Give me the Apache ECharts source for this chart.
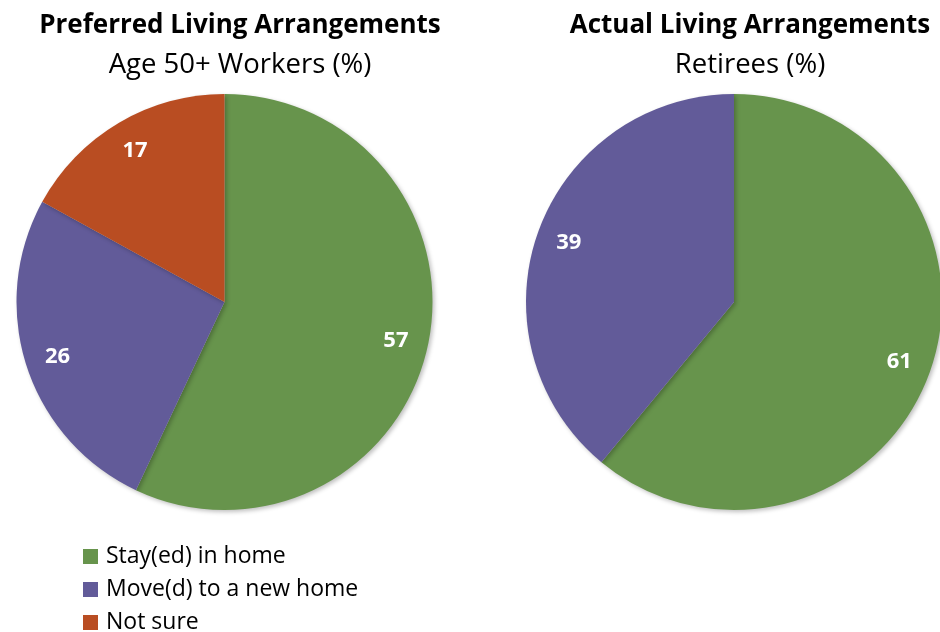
<!DOCTYPE html>
<html>
<head>
<meta charset="utf-8">
<script src="https://cdn.jsdelivr.net/npm/echarts@6/dist/echarts.min.js"></script>
<style>html,body{margin:0;padding:0;background:#fff}#c{width:940px;height:632px}</style>
</head>
<body>
<div id="c"></div>
<script>
var categories = ['Stay(ed) in home', 'Move(d) to a new home', 'Not sure'];
var workersValues = [57, 26, 17];
var retireesCategories = ['Stay(ed) in home', 'Move(d) to a new home'];
var retireesValues = [61, 39];
var colors = ['#67944c', '#625b99', '#b94d22'];
var titles = ['Preferred Living Arrangements', 'Actual Living Arrangements'];
var subtitles = ['Age 50+ Workers (%)', 'Retirees (%)'];

var FONT = '"Open Sans", sans-serif';
var R = 208;

function mk(cats, vals) {
  return cats.map(function (c, i) {
    return { name: c, value: vals[i], itemStyle: { color: colors[i] } };
  });
}

function pieSeries(cats, vals, cx) {
  return [{
    type: 'pie',
    center: [cx, 302],
    radius: [0, R],
    startAngle: 90,
    clockwise: true,
    silent: true,
    label: { show: false },
    labelLine: { show: false },
    itemStyle: { borderWidth: 0, shadowBlur: 4, shadowColor: 'rgba(0,0,0,0.25)', shadowOffsetX: 2, shadowOffsetY: 2 },
    data: mk(cats, vals)
  }, {
    type: 'pie',
    center: [cx, 302],
    radius: [R * 0.66, R],
    startAngle: 90,
    clockwise: true,
    silent: true,
    legendHoverLink: false,
    itemStyle: { color: 'rgba(0,0,0,0)', borderWidth: 0 },
    label: {
      show: true, position: 'inside', formatter: '{c}',
      color: '#fff', fontFamily: FONT, fontWeight: 'bold', fontSize: 22
    },
    labelLine: { show: false },
    data: cats.map(function (c, i) { return { name: c, value: vals[i], itemStyle: { color: 'rgba(0,0,0,0)' } }; })
  }];
}

var chart = echarts.init(document.getElementById('c'), null, { renderer: 'canvas' });
var tStyle = { fontFamily: FONT, fontWeight: 'bold', fontSize: 26, color: '#000', lineHeight: 30 };
var sStyle = { fontFamily: FONT, fontSize: 27.5, color: '#000', lineHeight: 30 };
chart.setOption({
  animation: false,
  backgroundColor: '#fff',
  title: [
    { text: titles[0], subtext: subtitles[0], left: 240, top: 11, textAlign: 'center', itemGap: 9, padding: 0,
      textStyle: tStyle, subtextStyle: sStyle },
    { text: titles[1], subtext: subtitles[1], left: 750, top: 11, textAlign: 'center', itemGap: 9, padding: 0,
      textStyle: tStyle, subtextStyle: sStyle }
  ],
  legend: {
    orient: 'vertical', left: 83, top: 545, height: 110, padding: 0,
    data: categories,
    icon: 'rect', itemWidth: 15, itemHeight: 15, itemGap: 10,
    selectedMode: false,
    textStyle: { fontFamily: FONT, fontSize: 23, lineHeight: 22, color: '#000', padding: [0, 0, 0, 3] }
  },
  series: pieSeries(categories, workersValues, 224.5).concat(pieSeries(retireesCategories, retireesValues, 734))
});
</script>
</body>
</html>
